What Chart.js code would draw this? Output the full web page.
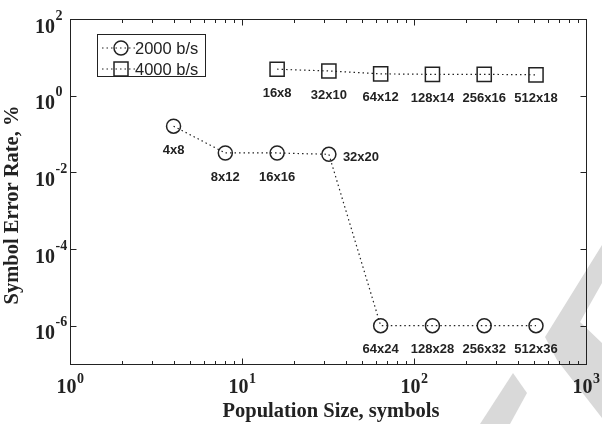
<!DOCTYPE html>
<html>
<head>
<meta charset="utf-8">
<script src="https://cdn.jsdelivr.net/npm/chart.js@4"></script>
<style>
  html, body { margin: 0; padding: 0; background: #fff; }
  canvas { display: block; }
</style>
</head>
<body>
<canvas id="chart" width="602" height="424"></canvas>
<script>
// Population size (symbols) and symbol error rate (%) for each bit rate
const popSize2000 = [4, 8, 16, 32, 64, 128, 256, 512];
const ser2000 = [0.16, 0.032, 0.032, 0.0295, 1e-6, 1e-6, 1e-6, 1e-6];
const grid2000 = ['4x8', '8x12', '16x16', '32x20', '64x24', '128x28', '256x32', '512x36'];

const popSize4000 = [16, 32, 64, 128, 256, 512];
const ser4000 = [4.9, 4.4, 3.7, 3.6, 3.6, 3.5];
const grid4000 = ['16x8', '32x10', '64x12', '128x14', '256x16', '512x18'];

const seriesNames = ['2000 b/s', '4000 b/s'];

// Decade exponents that carry a labelled tick
const xTickExps = [0, 1, 2, 3];
const yTickExps = [2, 0, -2, -4, -6];

const INK = '#222';
const SERIF = '"Liberation Serif", "Times New Roman", serif';
const SANS = '"Liberation Sans", Arial, sans-serif';

function toPoints(xs, ys) {
  return xs.map((x, i) => ({ x: x, y: ys[i] }));
}

// Light grey stripes printed behind the figure
const backdrop = {
  id: 'backdrop',
  beforeDraw(chart) {
    const ctx = chart.ctx;
    ctx.save();
    ctx.fillStyle = '#fff';
    ctx.fillRect(0, 0, chart.width, chart.height);
    ctx.fillStyle = '#d9d9d9';
    const shapes = [
      [[602, 245], [545, 337], [557, 360], [602, 418], [602, 343], [580, 322], [602, 283]],
      [[513, 373], [527, 393], [510, 424], [480, 424]]
    ];
    shapes.forEach(poly => {
      ctx.beginPath();
      poly.forEach((p, i) => i ? ctx.lineTo(p[0], p[1]) : ctx.moveTo(p[0], p[1]));
      ctx.closePath();
      ctx.fill();
    });
    ctx.restore();
  }
};

// "10" with a raised exponent
function powerLabel(ctx, x, y, exp, align, rise) {
  ctx.font = 'bold 20px ' + SERIF;
  const base = ctx.measureText('10').width;
  ctx.font = 'bold 14px ' + SERIF;
  const sup = ctx.measureText(String(exp)).width;
  const left = align === 'right' ? x - base : x - (base + sup) / 2;
  ctx.textAlign = 'left';
  ctx.textBaseline = 'alphabetic';
  ctx.font = 'bold 20px ' + SERIF;
  ctx.fillText('10', left, y);
  ctx.font = 'bold 14px ' + SERIF;
  ctx.fillText(String(exp), left + base + 0.5, y - rise);
}

// Box frame, inward ticks, decade labels and axis titles
const frame = {
  id: 'frame',
  afterDatasetsDraw(chart) {
    const ctx = chart.ctx;
    const a = chart.chartArea;
    const xs = chart.scales.x, ys = chart.scales.y;
    ctx.save();
    ctx.strokeStyle = INK;
    ctx.fillStyle = INK;
    ctx.lineWidth = 1;
    ctx.setLineDash([]);

    const L = Math.round(a.left) + 0.5, R = Math.round(a.right) + 0.5;
    const T = Math.round(a.top) + 0.5, B = Math.round(a.bottom) + 0.5;
    ctx.strokeRect(L, T, R - L, B - T);

    ctx.beginPath();
    // x ticks: decades long, in-between multiples short
    for (let e = xTickExps[0]; e < xTickExps[xTickExps.length - 1]; e++) {
      for (let k = 1; k <= 9; k++) {
        const px = Math.round(xs.getPixelForValue(k * Math.pow(10, e))) + 0.5;
        const len = k === 1 ? 6 : 3.5;
        ctx.moveTo(px, B); ctx.lineTo(px, B - len);
        ctx.moveTo(px, T); ctx.lineTo(px, T + len);
      }
    }
    yTickExps.forEach(e => {
      const py = Math.round(ys.getPixelForValue(Math.pow(10, e))) + 0.5;
      ctx.moveTo(L, py); ctx.lineTo(L + 6, py);
      ctx.moveTo(R, py); ctx.lineTo(R - 6, py);
    });
    ctx.stroke();

    xTickExps.forEach(e => {
      const px = xs.getPixelForValue(Math.pow(10, e));
      powerLabel(ctx, px, a.bottom + 29, e, 'center', 10.5);
    });
    yTickExps.forEach(e => {
      const py = ys.getPixelForValue(Math.pow(10, e));
      powerLabel(ctx, a.left - 15, py + 13.5, e, 'right', 13);
    });

    ctx.font = 'bold 20.5px ' + SERIF;
    ctx.textAlign = 'center';
    ctx.textBaseline = 'alphabetic';
    ctx.fillText('Population Size, symbols', 331, 417);

    ctx.save();
    ctx.translate(18, 205);
    ctx.rotate(-Math.PI / 2);
    ctx.fillText('Symbol Error Rate, %', 0, 0);
    ctx.restore();

    ctx.restore();
  }
};

// Grid-size tags beside each point
const tags = {
  id: 'tags',
  afterDatasetsDraw(chart) {
    const ctx = chart.ctx;
    const lists = [grid2000, grid4000];
    ctx.save();
    ctx.fillStyle = INK;
    ctx.font = 'bold 13px ' + SANS;
    ctx.textBaseline = 'middle';
    lists.forEach((names, d) => {
      const meta = chart.getDatasetMeta(d);
      names.forEach((txt, i) => {
        const pt = meta.data[i];
        if (txt === '32x20') {
          ctx.textAlign = 'left';
          ctx.fillText(txt, pt.x + 14, pt.y + 3);
        } else {
          ctx.textAlign = 'center';
          ctx.fillText(txt, pt.x, pt.y + 24);
        }
      });
    });
    ctx.restore();
  }
};

function marker(ctx, style, x, y) {
  ctx.beginPath();
  if (style === 'circle') ctx.arc(x, y, 7, 0, Math.PI * 2);
  else ctx.rect(x - 7, y - 7, 14, 14);
  ctx.stroke();
}

// Boxed key in the upper-left corner
const key = {
  id: 'key',
  afterDraw(chart) {
    const ctx = chart.ctx;
    ctx.save();
    ctx.strokeStyle = INK;
    ctx.fillStyle = INK;
    ctx.lineWidth = 1;
    ctx.strokeRect(97.5, 34.5, 108, 42);
    chart.data.datasets.forEach((ds, i) => {
      const y = 48 + 21 * i;
      ctx.lineWidth = 1.2;
      ctx.setLineDash(ds.borderDash);
      ctx.beginPath();
      ctx.moveTo(102, y); ctx.lineTo(136, y);
      ctx.stroke();
      ctx.setLineDash([]);
      ctx.lineWidth = 1.5;
      marker(ctx, ds.pointStyle, 121, y);
      ctx.font = '16.5px ' + SANS;
      ctx.textAlign = 'left';
      ctx.textBaseline = 'middle';
      ctx.fillText(ds.label, 135, y + 1);
    });
    ctx.restore();
  }
};

new Chart(document.getElementById('chart'), {
  type: 'scatter',
  data: {
    datasets: [
      {
        label: seriesNames[0],
        data: toPoints(popSize2000, ser2000),
        showLine: true,
        borderColor: INK,
        borderWidth: 1.2,
        borderDash: [1.5, 3],
        pointStyle: 'circle',
        pointRadius: 7,
        pointBorderWidth: 1.5,
        pointBorderColor: INK,
        pointBackgroundColor: 'rgba(0,0,0,0)'
      },
      {
        label: seriesNames[1],
        data: toPoints(popSize4000, ser4000),
        showLine: true,
        borderColor: INK,
        borderWidth: 1.2,
        borderDash: [1.5, 3],
        pointStyle: 'rect',
        pointRadius: 10,
        pointBorderWidth: 1.5,
        pointBorderColor: INK,
        pointBackgroundColor: 'rgba(0,0,0,0)'
      }
    ]
  },
  options: {
    responsive: false,
    animation: false,
    devicePixelRatio: 1,
    events: [],
    layout: { padding: { left: 70, top: 19, right: 16, bottom: 60 } },
    plugins: { legend: { display: false }, tooltip: { enabled: false } },
    scales: {
      x: { type: 'logarithmic', min: 1, max: 1000, display: false },
      y: { type: 'logarithmic', min: 1e-7, max: 100, display: false }
    }
  },
  plugins: [backdrop, frame, tags, key]
});
</script>
</body>
</html>
